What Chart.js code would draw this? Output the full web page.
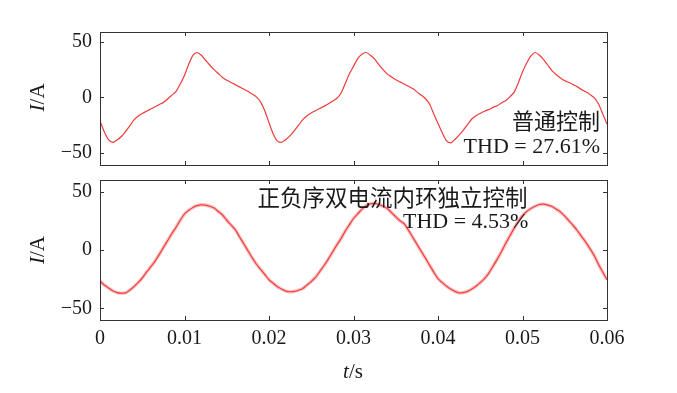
<!DOCTYPE html>
<html>
<head>
<meta charset="utf-8">
<script src="https://cdn.jsdelivr.net/npm/chart.js@4.4.1/dist/chart.umd.min.js"></script>
<style>
html,body{margin:0;padding:0;background:#fff;}
#wrap{position:relative;width:677px;height:393px;overflow:hidden;background:#fff;}
canvas{position:absolute;left:0;}
</style>
</head>
<body>
<div id="wrap">
  <canvas id="c1" width="677" height="172" style="top:0px"></canvas>
  <canvas id="c2" width="677" height="221" style="top:172px"></canvas>
</div>
<script>
// ---------- data ----------
const xTickValues = [0, 0.01, 0.02, 0.03, 0.04, 0.05, 0.06];
const xTickLabels = ['0', '0.01', '0.02', '0.03', '0.04', '0.05', '0.06'];
const yTickValues = [-50, 0, 50];
const yTickLabels = ['\u221250', '0', '50'];
const sampleStep = 0.0005; // s, sampling grid of the read-off values
const sampleCount = 121;
const times = Array.from({length: sampleCount}, (_, i) => +(i * sampleStep).toFixed(4));

// 普通控制 (conventional control) current, A
const currentNormal = [
  -21, -31, -38, -40.5, -38.5, -35.5, -31, -26, -20.5, -17,
  -14.5, -12.5, -10.5, -8.5, -6.5, -4.5, -1.5, 2, 5.5, 12,
  20, 30, 38, 40.5, 38, 33.5, 29, 25, 21.5, 18,
  15.5, 13.5, 11.5, 9.5, 7.5, 5.5, 3, 0.5, -4, -12,
  -23, -33, -39.5, -40.5, -38, -34.5, -30, -25, -20, -16.5,
  -14, -12, -10, -8, -6, -3.5, -1, 3.5, 12, 21,
  28, 35, 39, 40.5, 38, 34.5, 29.5, 25, 21, 18.5,
  16, 14, 12, 10, 8, 5, 2, -1, -6, -15,
  -23.5, -32, -39, -41, -38, -34, -29.5, -24.5, -19.5, -16.5,
  -14.5, -12.5, -11, -9, -7.5, -5, -3, 0.5, 4.5, 13,
  23, 31, 37.5, 40.5, 38, 34, 29, 24, 20.5, 17.5,
  15, 13.5, 11.5, 9.5, 7, 5, 2.5, -0.5, -6, -15,
  -24
];

// 正负序双电流内环独立控制 current, A
const currentDual = [
  -26.5, -30, -32.5, -35, -36.5, -37, -36.8, -34.5, -31.5, -28,
  -24, -19, -14.5, -9.7, -4, 2, 8, 14, 19.5, 25.5,
  31, 34, 36.5, 38, 38.7, 38.5, 37.5, 36, 33, 30,
  25.5, 21.5, 17.5, 11.5, 5.5, -0.5, -6.5, -12, -16.5, -21,
  -25.5, -28.5, -31.5, -33.5, -35.3, -35.8, -35.5, -34.5, -33, -30,
  -27, -23.5, -18.5, -13.5, -8, -2, 4, 9.5, 16, 21.5,
  27, 31, 35, 38, 39.5, 40, 39, 37.5, 35.5, 32,
  28.5, 25, 22.5, 17, 11, 5, -1, -6.8, -13, -19,
  -24.5, -28, -31, -33.5, -35.5, -36.8, -36.5, -35.5, -33.5, -31,
  -28, -24.5, -20, -14, -8, -1.5, 5.5, 12, 18.5, 24.5,
  29.5, 33, 35.5, 37.5, 39, 39.3, 38.5, 37.3, 35, 32.5,
  29, 25, 21, 16.5, 11.5, 6.5, 1, -5, -12.5, -19,
  -25.5
];

const topLabel = '普通控制';
const topTHD = 'THD = 27.61%';
const bottomLabel = '正负序双电流内环独立控制';
const bottomTHD = 'THD = 4.53%';

// ---------- styles ----------
const SERIF = '"Liberation Serif", "Times New Roman", serif';
const CJK = '"Noto Sans CJK SC", "Noto Sans CJK JP", sans-serif';
const LINE = '#ee3b3b';
const INK = '#1a1a1a';

function pts(arr) { return times.map((t, i) => ({x: t, y: arr[i]})); }

const frame = {
  id: 'frame',
  afterDraw(chart, args, opts) {
    const {ctx, chartArea: a, scales} = chart;
    ctx.save();
    ctx.strokeStyle = '#333';
    ctx.lineWidth = 1;
    ctx.strokeRect(Math.round(a.left) + 0.5, Math.round(a.top) + 0.5,
                   Math.round(a.right - a.left), Math.round(a.bottom - a.top));
    ctx.beginPath();
    const L = 4;
    xTickValues.forEach(v => {
      const x = Math.round(scales.x.getPixelForValue(v)) + 0.5;
      ctx.moveTo(x, a.top); ctx.lineTo(x, a.top + L);
      ctx.moveTo(x, a.bottom); ctx.lineTo(x, a.bottom - L);
    });
    yTickValues.forEach(v => {
      const y = Math.round(scales.y.getPixelForValue(v)) + 0.5;
      ctx.moveTo(a.left, y); ctx.lineTo(a.left + L, y);
      ctx.moveTo(a.right, y); ctx.lineTo(a.right - L, y);
    });
    ctx.stroke();

    // y axis title  I/A  (I italic)
    ctx.fillStyle = INK;
    ctx.translate(opts.yTitleX, scales.y.getPixelForValue(0));
    ctx.rotate(-Math.PI / 2);
    ctx.textBaseline = 'middle';
    ctx.font = 'italic 21px ' + SERIF;
    const w1 = ctx.measureText('I').width;
    ctx.font = '21px ' + SERIF;
    const w2 = ctx.measureText('/A').width;
    let sx = -(w1 + w2) / 2;
    ctx.textAlign = 'left';
    ctx.font = 'italic 21px ' + SERIF;
    ctx.fillText('I', sx, 0);
    ctx.font = '21px ' + SERIF;
    ctx.fillText('/A', sx + w1, 0);
    ctx.restore();

    // annotations
    ctx.save();
    ctx.fillStyle = INK;
    (opts.texts || []).forEach(t => {
      ctx.font = t.font;
      ctx.textAlign = t.align;
      ctx.textBaseline = t.baseline;
      ctx.fillText(t.text, t.x, t.y);
    });
    if (opts.xTitle) {
      ctx.textBaseline = 'middle';
      ctx.font = 'italic 21px ' + SERIF;
      const a1 = ctx.measureText('t').width;
      ctx.font = '21px ' + SERIF;
      const a2 = ctx.measureText('/s').width;
      const cx = opts.xTitle.x - (a1 + a2) / 2;
      ctx.textAlign = 'left';
      ctx.font = 'italic 21px ' + SERIF;
      ctx.fillText('t', cx, opts.xTitle.y);
      ctx.font = '21px ' + SERIF;
      ctx.fillText('/s', cx + a1, opts.xTitle.y);
    }
    ctx.restore();
  }
};

function yScale(min, max) {
  return {
    type: 'linear', min, max,
    afterFit(s) { s.width = 100; s.paddingTop = 0; s.paddingBottom = 0; },
    afterBuildTicks(s) { s.ticks = yTickValues.map(v => ({value: v})); },
    grid: {display: false, drawTicks: false},
    border: {display: false},
    ticks: {
      font: {family: SERIF, size: 20}, color: INK, padding: 8,
      callback: (v) => yTickLabels[yTickValues.indexOf(v)]
    }
  };
}

function xScale(show) {
  return {
    type: 'linear', min: 0, max: 0.06, display: show,
    afterFit(s) { if (show) { s.height = 73; } s.paddingLeft = 0; s.paddingRight = 0; },
    afterBuildTicks(s) { s.ticks = xTickValues.map(v => ({value: v})); },
    grid: {display: false, drawTicks: false},
    border: {display: false},
    ticks: {
      font: {family: SERIF, size: 20}, color: INK, padding: 7,
      maxRotation: 0, autoSkip: false,
      callback: (v) => xTickLabels[xTickValues.indexOf(v)]
    }
  };
}

const baseOpts = {
  responsive: false, animation: false, devicePixelRatio: 1,
  plugins: {legend: {display: false}, tooltip: {enabled: false}}
};

new Chart(document.getElementById('c1'), {
  type: 'line',
  data: {datasets: [{
    data: pts(currentNormal), borderColor: LINE, borderWidth: 1.2,
    pointRadius: 0, tension: 0.25, fill: false
  }]},
  options: Object.assign({}, baseOpts, {
    layout: {padding: {top: 32, right: 70, bottom: 7, left: 0}},
    scales: {x: xScale(false), y: yScale(-61, 59)},
    plugins: Object.assign({}, baseOpts.plugins, {frame: {
      yTitleX: 38,
      texts: [
        {text: topLabel, x: 600, y: 121, align: 'right', baseline: 'middle', font: '22px ' + CJK},
        {text: topTHD, x: 600, y: 153, align: 'right', baseline: 'alphabetic', font: '22px ' + SERIF}
      ]
    }})
  }),
  plugins: [frame]
});

new Chart(document.getElementById('c2'), {
  type: 'line',
  data: {datasets: [
    {data: pts(currentDual), borderColor: 'rgba(240,80,80,0.35)', borderWidth: 3.5,
     pointRadius: 0, tension: 0.25, fill: false},
    {data: pts(currentDual), borderColor: LINE, borderWidth: 1.2,
     pointRadius: 0, tension: 0.25, fill: false}
  ]},
  options: Object.assign({}, baseOpts, {
    layout: {padding: {top: 8, right: 70, bottom: 0, left: 0}},
    scales: {x: xScale(true), y: yScale(-60, 60)},
    plugins: Object.assign({}, baseOpts.plugins, {frame: {
      yTitleX: 38,
      texts: [
        {text: bottomLabel, x: 392.5, y: 25, align: 'center', baseline: 'middle', font: '22.5px ' + CJK},
        {text: bottomTHD, x: 403, y: 56, align: 'left', baseline: 'alphabetic', font: '22px ' + SERIF}
      ],
      xTitle: {x: 353, y: 200}
    }})
  }),
  plugins: [frame]
});
</script>
</body>
</html>
